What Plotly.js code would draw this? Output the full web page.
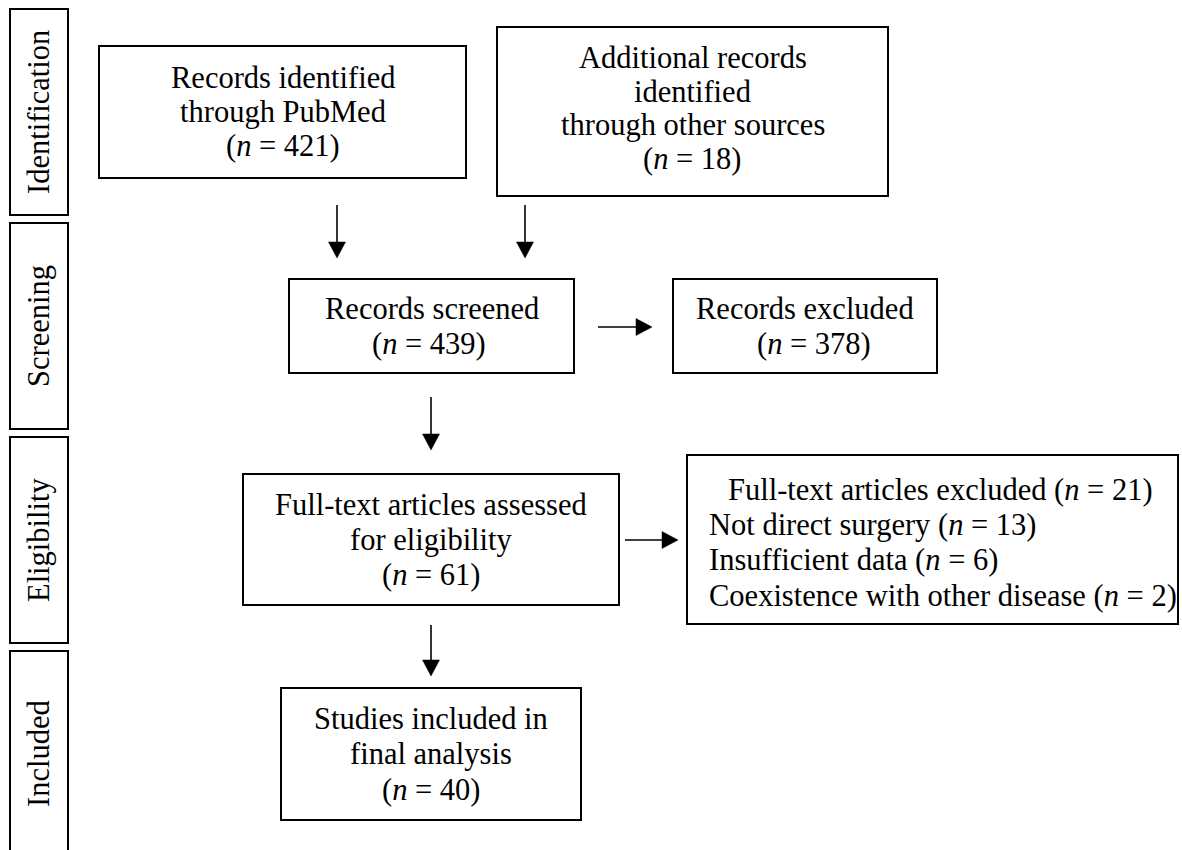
<!DOCTYPE html>
<html>
<head>
<meta charset="utf-8">
<script src="https://cdn.plot.ly/plotly-3.0.1.min.js"></script>
<style>
html,body{margin:0;padding:0;background:#fff;}
#chart{width:1182px;height:850px;}
</style>
</head>
<body>
<div id="chart"></div>
<script>
// ---- Data ----
const stages = ['Identification', 'Screening', 'Eligibility', 'Included'];
const boxTitles = [
  'Records identified<br>through PubMed',
  'Additional records<br>identified<br>through other sources',
  'Records screened',
  'Records excluded',
  'Full-text articles assessed<br>for eligibility',
  'Studies included in<br>final analysis'
];
const boxCounts = [421, 18, 439, 378, 61, 40];
const exclusionTitle = 'Full-text articles excluded';
const exclusionTotal = 21;
const exclusionReasons = ['Not direct surgery', 'Insufficient data', 'Coexistence with other disease'];
const exclusionCounts = [13, 6, 2];

// ---- Layout geometry (pixel space of the axes) ----
const W = 1182, H = 850;
const FONT = 'Liberation Serif, Times New Roman, serif';
const FS = 30.5;
const stageGeom = [[10, 9, 68, 215], [10, 223, 68, 429], [10, 437, 68, 643], [10, 651, 68, 857]];
const boxGeom = [
  [99, 46, 466, 178],
  [497, 27, 888, 196],
  [289, 279, 574, 373],
  [673, 279, 937, 373],
  [243, 474, 619, 605],
  [281, 688, 581, 820]
];
const countShift = [0, 0, -3, 9, 0, 0];
const textShiftY = [0, -3, 0, 0, 0, 0];
const lineSpacing = [34, 33.5, 35, 35, 35, 35.5];
const exclGeom = [687, 455, 1178, 624];
const exclTitlePos = [940, 490];
const exclReasonX = 707;
const exclReasonY = [525, 560, 596];
const arrowGeom = [
  [337, 205, 337, 258],
  [525, 205, 525, 258],
  [598, 327, 652, 327],
  [431, 397, 431, 450],
  [625, 540, 678, 540],
  [431, 625, 431, 676]
];
const HEAD = 16, HALF = 8.5;

const nTxt = v => '(<i>n</i> = ' + v + ')';
const shapes = [];
const annotations = [];

function rect(g, w) {
  shapes.push({type: 'rect', xref: 'x', yref: 'y', x0: g[0], y0: g[1], x1: g[2], y1: g[3],
    line: {color: '#000', width: w}, fillcolor: 'rgba(0,0,0,0)'});
}
function txt(x, y, text, opts) {
  annotations.push(Object.assign({x: x, y: y, xref: 'x', yref: 'y', text: text, showarrow: false,
    font: {family: FONT, size: FS, color: '#000'}, xanchor: 'center', yanchor: 'middle', align: 'center'}, opts || {}));
}

stages.forEach((s, i) => {
  const g = stageGeom[i];
  rect(g, 2);
  txt((g[0] + g[2]) / 2, (g[1] + g[3]) / 2, s, {textangle: -90});
});

boxTitles.forEach((t, i) => {
  const g = boxGeom[i];
  rect(g, 2);
  const lines = t.split('<br>');
  lines.push(nTxt(boxCounts[i]));
  const cx = (g[0] + g[2]) / 2, cy = (g[1] + g[3]) / 2 + textShiftY[i];
  const n = lines.length;
  lines.forEach((ln, j) => {
    const dx = (j === n - 1) ? countShift[i] : 0;
    txt(cx + dx, cy + (j - (n - 1) / 2) * lineSpacing[i], ln);
  });
});

rect(exclGeom, 2);
txt(exclTitlePos[0], exclTitlePos[1], exclusionTitle + ' ' + nTxt(exclusionTotal));
exclusionReasons.forEach((r, i) => {
  txt(exclReasonX, exclReasonY[i], r + ' ' + nTxt(exclusionCounts[i]), {xanchor: 'left', align: 'left'});
});

arrowGeom.forEach(a => {
  const [x0, y0, x1, y1] = a;
  let path;
  if (x0 === x1) {
    const dir = y1 > y0 ? 1 : -1;
    const by = y1 - dir * HEAD;
    shapes.push({type: 'line', xref: 'x', yref: 'y', x0: x0, y0: y0, x1: x1, y1: by, line: {color: '#000', width: 1.6}});
    path = `M ${x1 - HALF} ${by} L ${x1 + HALF} ${by} L ${x1} ${y1} Z`;
  } else {
    const dir = x1 > x0 ? 1 : -1;
    const bx = x1 - dir * HEAD;
    shapes.push({type: 'line', xref: 'x', yref: 'y', x0: x0, y0: y0, x1: bx, y1: y1, line: {color: '#000', width: 1.6}});
    path = `M ${bx} ${y1 - HALF} L ${bx} ${y1 + HALF} L ${x1} ${y1} Z`;
  }
  shapes.push({type: 'path', xref: 'x', yref: 'y', path: path, fillcolor: '#000', line: {color: '#000', width: 0.5}});
});

const layout = {
  width: W, height: H,
  margin: {l: 0, r: 0, t: 0, b: 0},
  paper_bgcolor: '#fff', plot_bgcolor: '#fff',
  showlegend: false,
  xaxis: {range: [0, W], visible: false, fixedrange: true},
  yaxis: {range: [H, 0], visible: false, fixedrange: true},
  shapes: shapes,
  annotations: annotations
};

Plotly.newPlot('chart', [{x: [], y: [], type: 'scatter', mode: 'markers', hoverinfo: 'skip'}], layout,
  {staticPlot: true, displayModeBar: false});
</script>
</body>
</html>
